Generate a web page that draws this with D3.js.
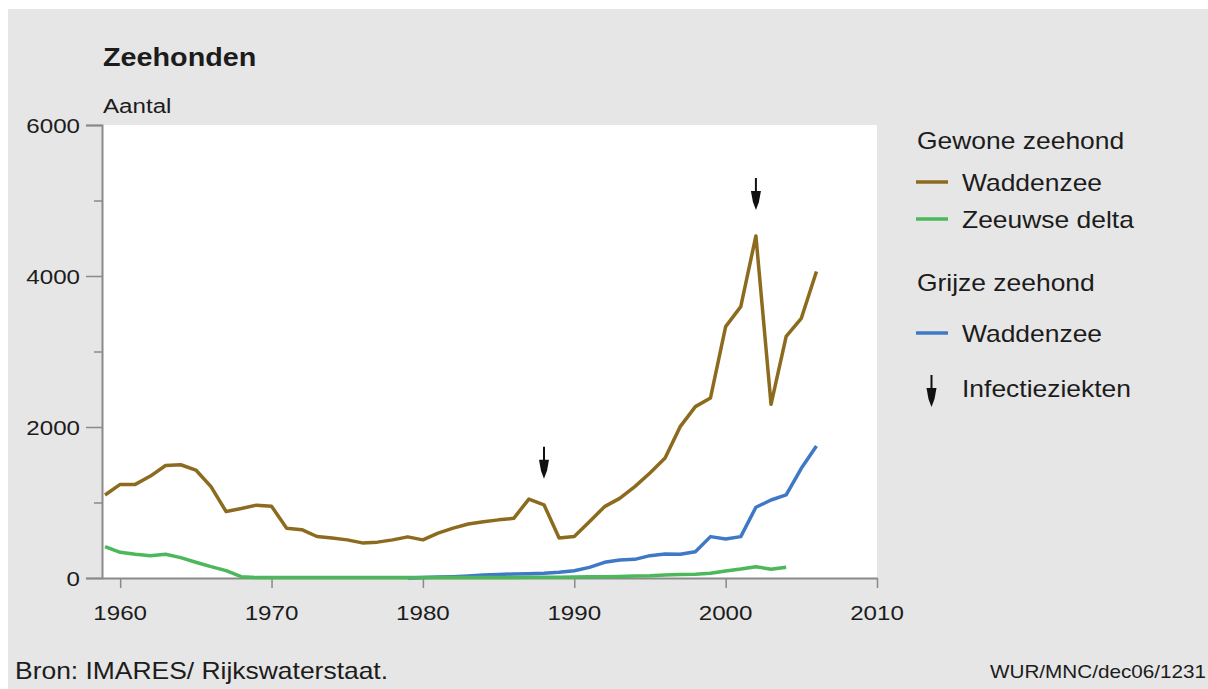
<!DOCTYPE html>
<html>
<head>
<meta charset="utf-8">
<script src="https://cdn.jsdelivr.net/npm/d3@7"></script>
<style>
  body { margin: 0; background: #fff; }
  text { font-family: "Liberation Sans", Arial, sans-serif; fill: #1c1c1c; }
</style>
</head>
<body>
<svg width="1208" height="689"></svg>
<script>
// data
const gewoneYears = d3.range(1959, 2007);
const gewoneWadden = [1100,1240,1240,1350,1490,1500,1430,1210,880,920,965,950,660,640,550,530,505,465,475,505,545,505,595,660,715,745,770,790,1045,970,530,550,745,945,1055,1210,1390,1590,2005,2270,2385,3330,3595,4530,2300,3200,3440,4060];
const deltaYears = d3.range(1959, 2005);
const gewoneDelta = [415,340,314,296,314,270,208,150,97,17,5,5,5,5,5,5,5,5,5,5,5,5,5,5,5,5,5,8,10,10,10,12,15,15,20,25,30,40,45,50,62,93,119,150,115,141];
const grijzeYears = d3.range(1979, 2007);
const grijzeWadden = [0,8,12,18,28,40,47,53,57,62,75,97,141,208,238,247,296,318,315,349,548,517,548,937,1033,1100,1453,1749];
const infectieYears = [1988, 2002];
const xTicks = [1960, 1970, 1980, 1990, 2000, 2010];
const yTicks = [0, 1000, 2000, 3000, 4000, 5000, 6000];
const yLabels = [0, 2000, 4000, 6000];

const colors = { gewone: '#8c6b1f', delta: '#4bb85a', grijze: '#3f78c6' };

const svg = d3.select('svg');
const sx = 1.15; // the picture's text is stretched wide

const label = (x, y, str, size, opts = {}) => svg.append('text')
    .attr('transform', `translate(${x},${y}) scale(${sx},1)`)
    .attr('font-size', size)
    .attr('font-weight', opts.bold ? 'bold' : null)
    .attr('text-anchor', opts.anchor || 'start')
    .text(str);

// background panel
svg.append('rect').attr('x', 8).attr('y', 9).attr('width', 1200).attr('height', 680).attr('fill', '#e6e6e6');

const x = d3.scaleLinear().domain([1958.8, 2010]).range([102, 877]);
const y = d3.scaleLinear().domain([0, 6000]).range([578, 125]);

svg.append('rect')
    .attr('x', x.range()[0]).attr('y', y(6000))
    .attr('width', x(2010) - x.range()[0]).attr('height', y(0) - y(6000))
    .attr('fill', '#fff');

label(103, 66, 'Zeehonden', 25, { bold: true });
label(103, 113, 'Aantal', 21);

// y axis
const yAxisG = svg.append('g').attr('transform', `translate(${x.range()[0]},0)`)
    .call(d3.axisLeft(y).tickValues(yTicks).tickSize(16).tickFormat(''));
yAxisG.selectAll('.tick line')
    .attr('x2', d => yLabels.includes(d) ? -16 : -8)
    .attr('stroke', '#8a8a8a').attr('stroke-width', 1.5);
yAxisG.select('.domain').attr('stroke', '#8a8a8a').attr('stroke-width', 2);
yLabels.forEach(v => label(80, y(v) + 7.5, v, 21, { anchor: 'end' }));

// x axis
const xAxisG = svg.append('g').attr('transform', `translate(0,${y(0)})`)
    .call(d3.axisBottom(x).tickValues(xTicks).tickSize(10).tickSizeOuter(0).tickFormat(''));
xAxisG.selectAll('.tick line').attr('stroke', '#8a8a8a').attr('stroke-width', 1.5);
xAxisG.select('.domain').attr('stroke', '#8a8a8a').attr('stroke-width', 2);
xTicks.forEach(v => label(x(v), 620, v, 21, { anchor: 'middle' }));

// lines
const line = d3.line().x(d => x(d[0])).y(d => y(d[1]));
const drawSeries = (years, vals, color) => svg.append('path')
    .attr('d', line(years.map((yr, i) => [yr, vals[i]])))
    .attr('fill', 'none').attr('stroke', color)
    .attr('stroke-width', 3.5).attr('stroke-linejoin', 'round');

drawSeries(grijzeYears, grijzeWadden, colors.grijze);
drawSeries(deltaYears, gewoneDelta, colors.delta);
drawSeries(gewoneYears, gewoneWadden, colors.gewone);

// arrows marking disease outbreaks
const arrow = (ax, top, tip) => {
  svg.append('line').attr('x1', ax).attr('x2', ax).attr('y1', top).attr('y2', tip - 12)
      .attr('stroke', '#111').attr('stroke-width', 2);
  svg.append('path')
      .attr('d', `M${ax - 5},${tip - 19} L${ax + 5},${tip - 19} L${ax + 3},${tip - 8} L${ax},${tip} L${ax - 3},${tip - 8} Z`)
      .attr('fill', '#111');
};
infectieYears.forEach(yr => {
  const v = gewoneWadden[gewoneYears.indexOf(yr)];
  arrow(x(yr), y(v) - 58, y(v) - 26);
});

// legend
label(917, 149, 'Gewone zeehond', 23);
svg.append('line').attr('x1', 916).attr('x2', 948).attr('y1', 182).attr('y2', 182)
    .attr('stroke', colors.gewone).attr('stroke-width', 3.5);
label(962, 191, 'Waddenzee', 23);
svg.append('line').attr('x1', 916).attr('x2', 948).attr('y1', 219).attr('y2', 219)
    .attr('stroke', colors.delta).attr('stroke-width', 3.5);
label(962, 228, 'Zeeuwse delta', 23);
label(917, 291, 'Grijze zeehond', 23);
svg.append('line').attr('x1', 916).attr('x2', 948).attr('y1', 333).attr('y2', 333)
    .attr('stroke', colors.grijze).attr('stroke-width', 3.5);
label(962, 342, 'Waddenzee', 23);
arrow(931.5, 375, 407);
label(962, 397, 'Infectieziekten', 23);

// footer
label(15, 679, 'Bron: IMARES/ Rijkswaterstaat.', 23);
label(1206, 678, 'WUR/MNC/dec06/1231', 18, { anchor: 'end' });
</script>
</body>
</html>
